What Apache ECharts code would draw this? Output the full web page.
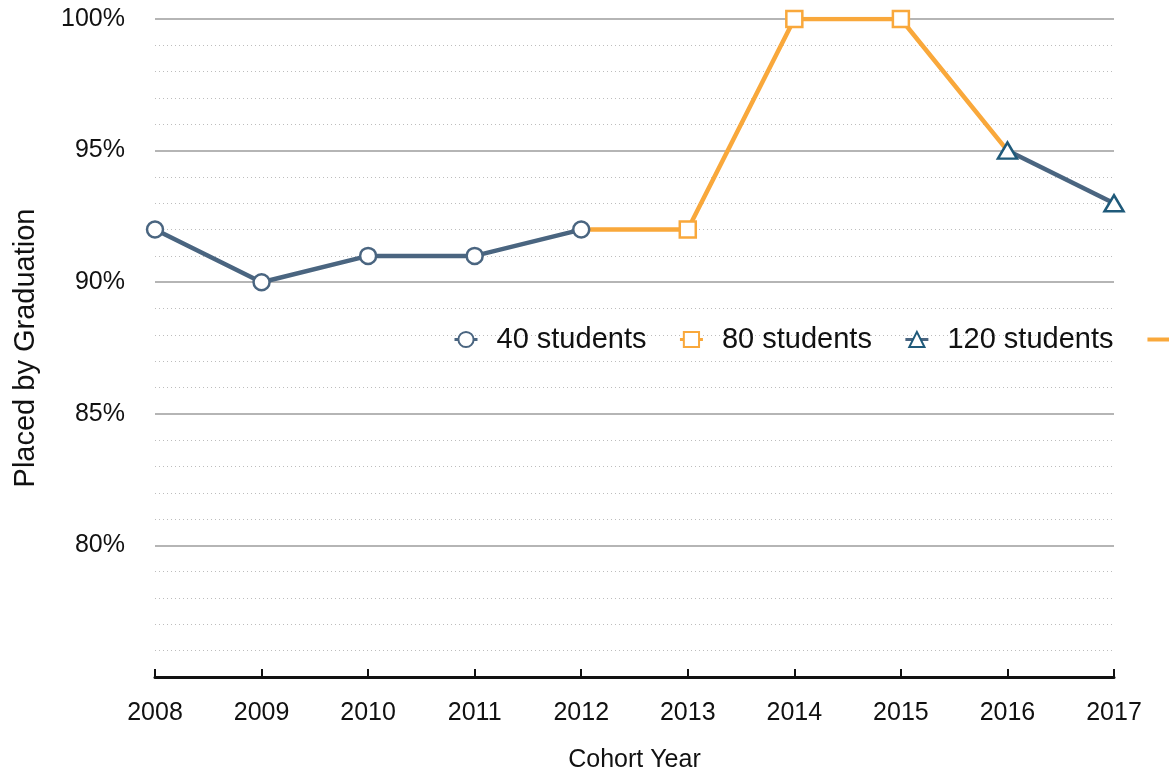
<!DOCTYPE html>
<html>
<head>
<meta charset="utf-8">
<script src="https://cdn.jsdelivr.net/npm/echarts@6/dist/echarts.min.js"></script>
<style>
html,body{margin:0;padding:0;background:#fff;}
#chart{width:1169px;height:778px;}
</style>
</head>
<body>
<div id="chart"></div>
<script>
const categories = ['2008','2009','2010','2011','2012','2013','2014','2015','2016','2017'];
const students40 = [92, 90, 91, 91, 92, null, null, null, null, null];
const students80 = [null, null, null, null, 92, 92, 100, 100, 95, null];
const students120 = [null, null, null, null, null, null, null, null, 95, 93];
const seriesNames = ['40 students', '80 students', '120 students', ' '];
const yTicks = [75, 80, 85, 90, 95, 100];

const FONT = 'Liberation Sans, Arial, Helvetica, sans-serif';
const SLATE = '#4a6580';
const ORANGE = '#f9a83b';
const TEAL = '#1f5a7a';

// orange series: no marker on shared endpoints (drawn by neighbouring series)
const orangeData = students80.map((v, i) => {
  if (v === null) return null;
  const isShared = (students40[i] !== null) || (students120[i] !== null);
  return isShared ? { value: v, symbol: 'none' } : v;
});

const chart = echarts.init(document.getElementById('chart'), null, { renderer: 'canvas' });
chart.setOption({
  animation: false,
  backgroundColor: '#fff',
  textStyle: { fontFamily: FONT },
  grid: { left: 155, right: 55, top: 19, bottom: 98, containLabel: false },
  legend: {
    left: 448,
    top: 320,
    width: 900,
    orient: 'horizontal',
    itemWidth: 23,
    itemHeight: 19,
    itemGap: 32,
    textStyle: { fontSize: 29, color: '#111', fontFamily: FONT, padding: [0, 0, 0, 14] },
    lineStyle: { width: 3 },
    data: [
      { name: seriesNames[0] },
      { name: seriesNames[1] },
      { name: seriesNames[2] },
      { name: seriesNames[3], itemStyle: { opacity: 0 }, lineStyle: { width: 4, color: ORANGE } }
    ]
  },
  xAxis: {
    type: 'category',
    data: categories,
    boundaryGap: false,
    name: 'Cohort Year',
    nameLocation: 'middle',
    nameGap: 71,
    nameTextStyle: { fontSize: 25, color: '#111', fontFamily: FONT },
    axisLine: { show: true, lineStyle: { color: '#111', width: 3 } },
    axisTick: { show: true, inside: true, length: 8, lineStyle: { color: '#111', width: 2 } },
    axisLabel: { fontSize: 25, color: '#111', margin: 24, fontFamily: FONT },
    splitLine: { show: false }
  },
  yAxis: {
    type: 'value',
    min: yTicks[0],
    max: yTicks[yTicks.length - 1],
    interval: 5,
    name: 'Placed by Graduation',
    nameLocation: 'middle',
    nameGap: 115,
    nameTextStyle: { fontSize: 29, color: '#111', fontFamily: FONT },
    axisLine: { show: false },
    axisTick: { show: false },
    axisLabel: {
      fontSize: 25, color: '#111', margin: 30, fontFamily: FONT,
      lineHeight: 30, verticalAlign: 'middle', padding: [3, 0, 0, 0],
      formatter: v => (v === yTicks[0] ? '' : v + '%')
    },
    splitLine: { show: true, lineStyle: { color: '#b5b5b5', width: 2 } },
    minorTick: { show: false, splitNumber: 5 },
    minorSplitLine: { show: true, lineStyle: { color: '#bdbdbd', width: 1, type: [1, 3] } }
  },
  series: [
    {
      name: seriesNames[1],
      type: 'line',
      z: 1,
      data: orangeData,
      symbol: 'rect',
      symbolSize: 16,
      showAllSymbol: true,
      connectNulls: false,
      lineStyle: { color: ORANGE, width: 4.5 },
      itemStyle: { color: '#fff', borderColor: ORANGE, borderWidth: 2.5 }
    },
    {
      name: seriesNames[0],
      type: 'line',
      z: 3,
      data: students40,
      symbol: 'circle',
      symbolSize: 16,
      showAllSymbol: true,
      lineStyle: { color: SLATE, width: 4.5 },
      itemStyle: { color: '#fff', borderColor: SLATE, borderWidth: 2.5 }
    },
    {
      name: seriesNames[2],
      type: 'line',
      z: 3,
      data: students120,
      symbol: 'triangle',
      symbolSize: [19, 16],
      showAllSymbol: true,
      lineStyle: { color: SLATE, width: 4.5 },
      itemStyle: { color: '#fff', borderColor: TEAL, borderWidth: 2.5 }
    },
    {
      name: seriesNames[3],
      type: 'line',
      z: 1,
      data: [],
      symbol: 'none',
      lineStyle: { color: ORANGE, width: 4.5 },
      itemStyle: { color: ORANGE }
    }
  ]
});
</script>
</body>
</html>
